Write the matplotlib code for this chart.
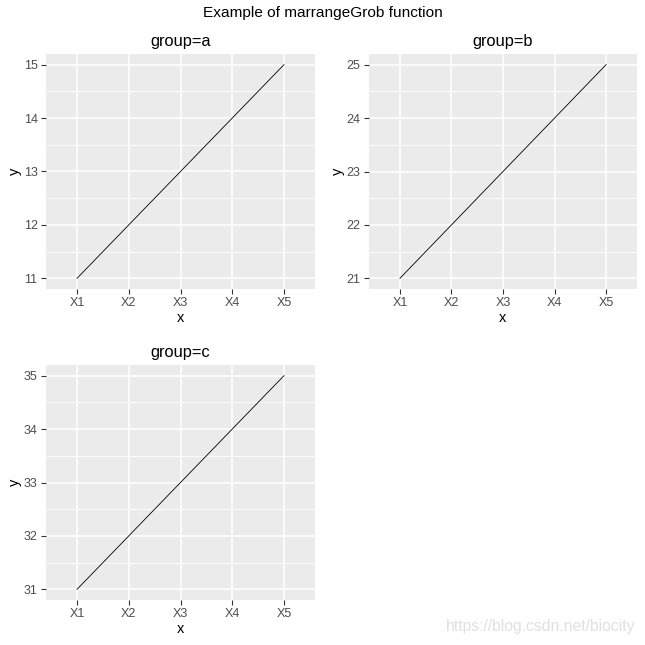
import matplotlib
matplotlib.use('Agg')
import matplotlib.pyplot as plt
from matplotlib.ticker import MultipleLocator

plt.rcParams['font.family'] = ['Liberation Sans', 'DejaVu Sans']

#%% Dados

categorias = ['X1', 'X2', 'X3', 'X4', 'X5']
grupo_a = [11, 12, 13, 14, 15]
grupo_b = [21, 22, 23, 24, 25]
grupo_c = [31, 32, 33, 34, 35]
titulos = ['group=a', 'group=b', 'group=c']

#%% Plotagem

fig = plt.figure(figsize=(6.45, 6.45), dpi=100)
fig.text(0.5, 1 - 13 / 645, 'Example of marrangeGrob function', ha='center', va='center', fontsize=11.1)

posicoes = [
    [46 / 645, 1 - 289 / 645, 269 / 645, 235 / 645],
    [369 / 645, 1 - 289 / 645, 268 / 645, 235 / 645],
    [46 / 645, 1 - 600 / 645, 269 / 645, 235 / 645],
]

xpos = list(range(1, len(categorias) + 1))

for pos, valores, titulo in zip(posicoes, [grupo_a, grupo_b, grupo_c], titulos):
    ax = fig.add_axes(pos)
    ax.set_facecolor('#EBEBEB')
    for s in ax.spines.values():
        s.set_visible(False)
    ax.plot(xpos, valores, color='black', lw=0.6)
    rng = max(valores) - min(valores)
    ax.set_ylim(min(valores) - 0.05 * rng, max(valores) + 0.05 * rng)
    ax.set_xlim(0.4, len(categorias) + 0.6)
    ax.set_xticks(xpos)
    ax.set_xticklabels(categorias)
    ax.yaxis.set_major_locator(MultipleLocator(1))
    ax.yaxis.set_minor_locator(MultipleLocator(0.5))
    ax.grid(True, which='major', color='white', lw=1.1)
    ax.grid(True, which='minor', axis='y', color='white', lw=0.55)
    ax.set_axisbelow(True)
    ax.tick_params(which='major', length=3.5, width=0.8, color='#333333', labelcolor='#4D4D4D',
                   labelsize=9, pad=2.5)
    ax.tick_params(which='minor', length=0)
    ax.set_xlabel('x', fontsize=10.5, labelpad=1.5)
    ax.set_ylabel('y', fontsize=10.5, labelpad=1)
    ax.set_title(titulo, fontsize=11.8, pad=6)

fig.text(635 / 645, 1 - 627 / 645, 'https://blog.csdn.net/biocity', ha='right', va='center',
         fontsize=11.3, color='#E0E0E0')

plt.savefig('out.png', dpi=100)
